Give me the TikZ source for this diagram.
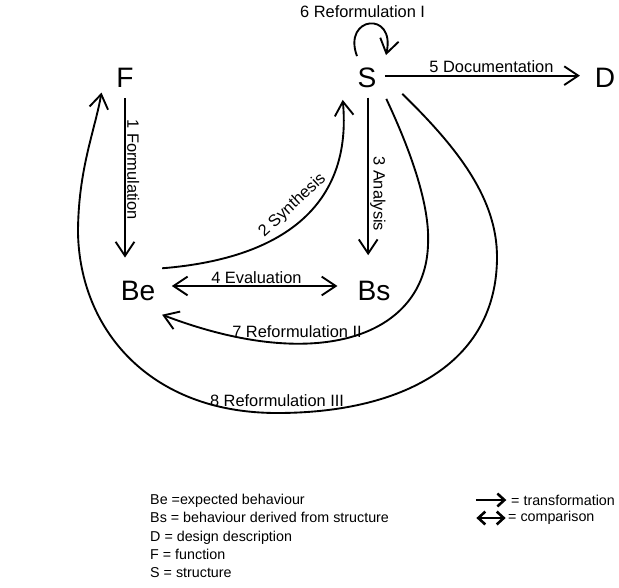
\documentclass[tikz,border=0pt]{standalone}
\usepackage{fontspec}
\setmainfont{Liberation Sans}
\usetikzlibrary{arrows.meta,calc}

\tikzset{
  state/.style={font=\fontsize{24}{28}\selectfont, inner sep=4pt},
  lbl/.style={font=\fontsize{14}{16}\selectfont, inner sep=1pt},
  key/.style={font=\fontsize{12.2}{15.6}\selectfont, inner sep=0pt, align=left},
  trans/.style={line width=1.6pt, -{Straight Barb[length=12pt,width=16pt]}},
  comp/.style={line width=1.6pt, {Straight Barb[length=12pt,width=16pt]}-{Straight Barb[length=12pt,width=16pt]}},
  keytrans/.style={line width=2.2pt, -{Straight Barb[length=6pt,width=11pt]}},
  keycomp/.style={line width=2.2pt, {Straight Barb[length=6pt,width=11pt]}-{Straight Barb[length=6pt,width=11pt]}}
}

\begin{document}
\begin{tikzpicture}[x=0.8536pt, y=-0.8536pt]
\useasboundingbox (0,0) rectangle (619,587);

% the five states
\node[state] (F) at (125,78) {F};
\node[state] (S) at (367,78) {S};
\node[state] (D) at (605,78) {D};
\node[state] (Be) at (138,291) {Be};
\node[state] (Bs) at (374,291) {Bs};

% straight transformations
\draw[trans, shorten <=5pt, shorten >=16pt] (F.south) -- node[pos=.42, rotate=-90, anchor=south, lbl] {1 Formulation} (F.south |- Be.north);
\draw[trans, shorten <=4pt, shorten >=18pt] ([xshift=1pt]S.south) -- node[pos=.55, rotate=-90, anchor=south, lbl] {3 Analysis} ([xshift=1pt]S.south |- Bs.north);
\draw[trans, shorten <=3pt, shorten >=8.5pt] ([yshift=2pt]S.east) -- node[midway, above=1pt, xshift=5pt, lbl] {5 Documentation} ([yshift=2pt]D.west);
\draw[comp, shorten <=10pt, shorten >=13pt] ([yshift=4.3pt]Be.east) -- node[midway, above, lbl] {4 Evaluation} ([yshift=4.3pt]Bs.west);

% curved ones
\draw[trans] ($(Be.north east)+(2,-8)$) .. controls (290,258) and (352,200) .. node[pos=.5, sloped, above=6pt, lbl] {2 Synthesis} ($(S.south west)+(-10,7)$);
\draw[trans] ($(S.north)+(-10,-7)$) .. controls +(-15,-40) and +(10,-45) .. node[pos=.5, above=3pt, xshift=-6pt, lbl] {6 Reformulation I} ($(S.north)+(19,-8)$);
\draw[trans] ($(S.south east)+(5,6)$) .. controls (415,160) and (430,210) .. (428,245)
  .. controls (425,335) and (320,375) .. node[pos=.65, above=3pt, xshift=-8pt, lbl] {7 Reformulation II} ($(Be.south east)+(2,9)$);
\draw[trans] ($(S.south east)+(21,1)$) .. controls (460,150) and (497,200) .. (497,257)
  .. controls (497,365) and (400,413) .. (277,413) node[above=4pt, lbl] {8 Reformulation III}
  .. controls (150,413) and (80,330) .. (78,233)
  .. controls (78,170) and (95,130) .. ($(F.south west)+(-10,0)$);

% key
\node[key, anchor=north west] (keys) at (150,494) {Be =expected behaviour\\Bs = behaviour derived from structure\\D = design description\\F = function\\S = structure};
\node[key, anchor=west] (trf) at (511,500) {= transformation};
\node[key, anchor=west] (cmp) at (508,518) {= comparison};
\draw[keytrans] ([xshift=-30pt]trf.west) -- ([xshift=-4pt]trf.west);
\draw[keycomp] ([xshift=-27pt]cmp.west) -- ([xshift=-2pt]cmp.west);
\end{tikzpicture}
\end{document}
